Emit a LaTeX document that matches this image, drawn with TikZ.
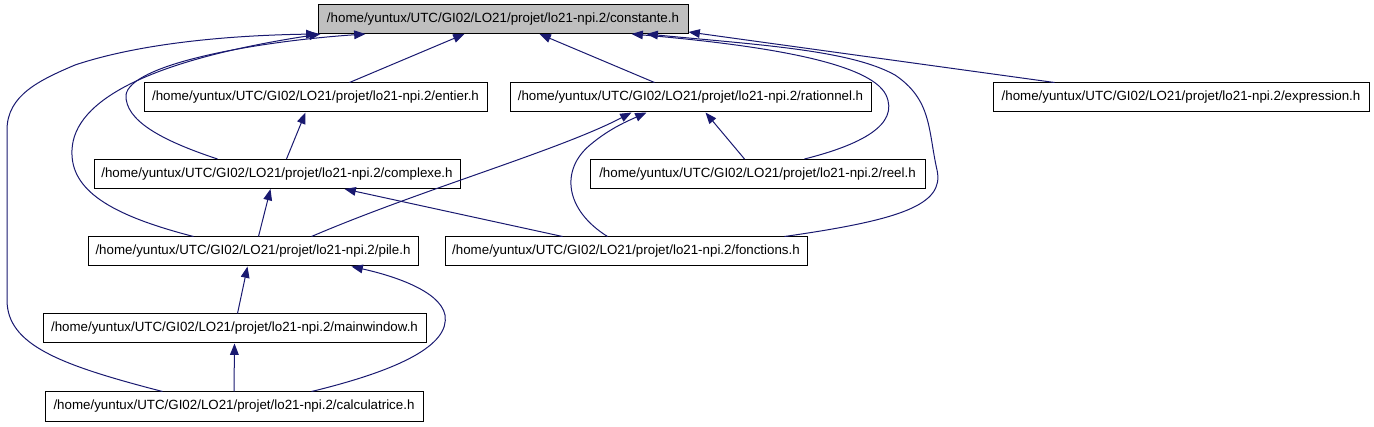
\documentclass[tikz,border=0pt]{standalone}
\usepackage{fontspec}
\setmainfont{Liberation Sans}
\usetikzlibrary{arrows.meta,calc}
\definecolor{EdgeBlue}{HTML}{191970}
\definecolor{RootGray}{HTML}{BFBFBF}
\tikzset{
  FB/.style={rectangle,draw=black,line width=0.75pt,fill=white,
             minimum height=21.75pt,inner sep=0pt,text centered,
             font=\fontsize{10}{12}\selectfont},
  nR/.style={FB,fill=RootGray},
  arr/.style={-{Triangle[length=8.5pt,width=6.5pt]},draw=EdgeBlue,line width=0.75pt}
}
\begin{document}
\begin{tikzpicture}[x=0.75pt,y=-0.75pt]
  \useasboundingbox (0,0) rectangle (1374,427);
  \node[nR,minimum width=277.5pt] (const) at (503,19) {/home/yuntux/UTC/GI02/LO21/projet/lo21-npi.2/constante.h};
  \node[FB,minimum width=257.25pt] (entier) at (315.5,97.5) {/home/yuntux/UTC/GI02/LO21/projet/lo21-npi.2/entier.h};
  \node[FB,minimum width=270.75pt] (ration) at (690.5,97.5) {/home/yuntux/UTC/GI02/LO21/projet/lo21-npi.2/rationnel.h};
  \node[FB,minimum width=282pt] (expr) at (1181,97.5) {/home/yuntux/UTC/GI02/LO21/projet/lo21-npi.2/expression.h};
  \node[FB,minimum width=274.5pt] (cplx) at (277,174) {/home/yuntux/UTC/GI02/LO21/projet/lo21-npi.2/complexe.h};
  \node[FB,minimum width=251.25pt] (reel) at (757.5,174) {/home/yuntux/UTC/GI02/LO21/projet/lo21-npi.2/reel.h};
  \node[FB,minimum width=247.5pt] (pile) at (253,251.5) {/home/yuntux/UTC/GI02/LO21/projet/lo21-npi.2/pile.h};
  \node[FB,minimum width=271.5pt] (fonct) at (626,251.5) {/home/yuntux/UTC/GI02/LO21/projet/lo21-npi.2/fonctions.h};
  \node[FB,minimum width=287.25pt] (mainw) at (234.5,328.5) {/home/yuntux/UTC/GI02/LO21/projet/lo21-npi.2/mainwindow.h};
  \node[FB,minimum width=283.5pt] (calc) at (234,406.5) {/home/yuntux/UTC/GI02/LO21/projet/lo21-npi.2/calculatrice.h};

  % straight includes
  \draw[arr]($(entier.north west)+(206,0)$)--($(const.south west)+(147,0)$);
  \draw[arr]($(ration.north west)+(145,0)$)--($(const.south west)+(222,0)$);
  \draw[arr]($(expr.north west)+(62,0)$)--($(const.south east)+(0,-2)$);
  \draw[arr]($(cplx.north west)+(193,0)$)--($(entier.south west)+(162,0)$);
  \draw[arr]($(pile.north west)+(171,0)$)--($(cplx.south west)+(177,0)$);
  \draw[arr]($(fonct.north west)+(118,0)$)--($(cplx.south west)+(251,0)$);
  \draw[arr]($(reel.north west)+(155,0)$)--($(ration.south west)+(196,0)$);
  \draw[arr]($(mainw.north west)+(195,0)$)--($(pile.south west)+(160,0)$);
  \draw[arr](calc.north)--(mainw.south);

  % curved includes
  \draw[arr]($(pile.north west)+(224,0)$) .. controls (420,190) and (560,150) .. ($(ration.south west)+(122,0)$);
  \draw[arr]($(fonct.north west)+(163,0)$) .. controls (565,210) and (560,170) .. (590,145)
    .. controls (610,128) and (630,120) .. ($(ration.south west)+(137,0)$);
  \draw[arr]($(calc.north west)+(267,0)$) .. controls (400,370) and (450,345) .. (445,315)
    .. controls (440,290) and (390,275) .. ($(pile.south west)+(264,0)$);
  \draw[arr]($(reel.north west)+(215,0)$) .. controls (860,145) and (900,125) .. (886,95)
    .. controls (870,62) and (760,45) .. ($(const.south west)+(314,0)$);
  \draw[arr]($(fonct.north west)+(340,0)$) .. controls (900,220) and (945,205) .. (937,170)
    .. controls (928,130) and (932,100) .. (895,75)
    .. controls (850,50) and (760,45) .. ($(const.south west)+(329,0)$);
  \draw[arr]($(cplx.north west)+(124,0)$) .. controls (160,140) and (125,120) .. (126,95)
    .. controls (130,65) and (250,42) .. ($(const.south west)+(48,0)$);
  \draw[arr]($(pile.north west)+(106,0)$) .. controls (110,215) and (70,190) .. (72,150)
    .. controls (74,100) and (150,60) .. ($(const.south west)+(3,0)$);
  \draw[arr]($(calc.north west)+(118,0)$) .. controls (60,365) and (7,345) .. (7,300)
    -- (7,130) .. controls (7,95) and (40,80) .. (75,65)
    .. controls (150,40) and (250,35) .. (const.south west);
\end{tikzpicture}
\end{document}
